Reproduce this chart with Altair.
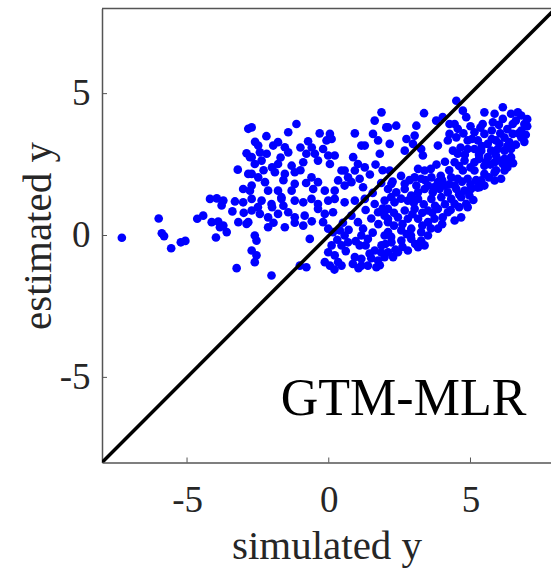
import altair as alt
import pandas as pd

# ---- data ----
sim_y = [
    -7.3, -6.0, -5.89, -5.81, -5.56, -5.22, -5.06, -4.64, -4.43, -4.19, -3.95, -3.72, -3.78, -3.31, -3.02,
    -4.13, -3.9, -3.72, -3.6, -3.84, -3.19, -2.9, -3.98, -3.25,
    -2.84, -2.78, -3.21, -2.84, -3.02, -2.78,
    -2.72, -1.14, -1.43, -0.32, 0.04, 0.1, -0.08, -0.73, 0.92, 1.62, 1.86, 1.56, 1.74, 2.03,
    -2.49, -2.43, -2.72, -2.61, -2.37, -2.19, -1.96, -1.79, -1.55, -1.43,
    -0.79, -0.49, -0.38, -0.02, 0.21, -0.9, 0.04, 0.86, 1.15, 1.27, 1.8,
    1.03, 1.27, 0.92, 0.56,
    -1.79, -1.31, -1.2, -1.55, -1.9,
    -2.72, -2.49, -2.25, -2.72, -2.14,
    -0.61, -0.38, -0.55, -0.14, 0.21,
    -1.2, -1.31,
    0.45, 0.68, 0.33, 0.56, 0.8, 1.09, 1.21,
    -1.79, -1.67,
    -2.72, -2.37, -2.02, -1.67, -1.2, -0.9, -0.61, -0.38, -0.02, 0.21, 0.56, 0.92, 1.27, 1.62, 1.97,
    -2.72, -2.43, -2.14, -1.79, -1.43, -1.2, -0.85, -0.9, -1.55, -2.14, -2.84,
    -0.38, -0.14, 0.15, -0.2, -0.02,
    -2.61, -2.55, -2.72, -2.55, -2.61,
    -0.67, -2.02, -1.02, -0.79,
    0.15, 0.39, 0.56, 0.68, 0.45, 0.1, -0.02, 0.21, -0.14, 0.04, 0.33, 0.45,
    0.8, 1.03, 1.21, 1.15, 1.38,
    1.09, 0.92, 1.15, 1.44, 1.62, 1.86, 1.97, 1.74, 1.97, 1.38, 1.68, 1.15,
    1.97, 2.09, 1.74,
    4.5, 3.36, 4.73, 4.85,
    5.49, 5.85, 6.14, 6.43, 6.67, 6.79, 6.9, 6.79, 6.49, 6.14, 5.79, 5.43,
    2.09, 2.38, 3.09, 3.79, 4.02, 4.26, 4.44, 4.55,
    2.74, 3.03, 2.97, 2.15,
    4.26, 4.5, 4.2,
    5.14, 5.49, 5.26, 4.9, 5.61, 5.9, 6.02, 6.37, 6.49, 6.79,
    3.85,
    4.9, 5.14, 5.38, 5.73, 5.96, 6.2, 6.43, 5.61, 5.9, 6.2, 6.43,
    2.68, 3.26, 3.32,
    4.38, 4.55, 4.44,
    4.79, 5.14, 5.49, 5.85, 6.14, 6.37, 4.73, 5.14, 5.49, 5.85, 6.2, 4.9, 5.38, 5.85, 6.08,
    3.15, 3.38, 3.03, 3.26, 3.62, 3.85, 3.5, 3.09, 2.68, 2.21, 2.15,
    4.32, 4.55, 4.44, 4.08,
    2.09, 2.38, 2.68, 2.91, 3.15, 3.38, 3.67, 3.91, 4.2, 4.5, 4.79, 5.02, 5.32,
    2.32, 2.79, 3.15, 3.62, 3.97, 4.32, 4.67, 4.96, 4.85, 4.44,
    2.09, 2.68, 3.03, 3.5, 3.85, 4.2, 4.02, 3.73, 4.67, 4.44, 3.85, 3.5, 3.15, 2.79, 2.44, 2.09,
    2.09, 2.56, 2.91, 3.26, 3.5, 3.26, 2.91, 2.56, 2.21, 2.09, 2.44, 2.79, 3.15, 3.38, 2.27,
    5.25, 5.49,
    # denser fill of the right-hand cloud
    2.25, 2.55, 2.85, 3.4, 3.7, 4.0, 4.25, 2.2, 2.55, 3.0, 3.35, 3.75, 4.1, 4.6, 2.3, 2.6, 2.95, 3.3,
    3.65, 4.0, 2.3, 2.75, 3.05, 2.6, 2.35, 2.0, 2.2, 3.6, 3.3, 2.9, 4.3, 4.9, 5.1, 4.6, 5.0, 5.2, 4.7,
    4.25, 3.95, 3.6, 3.8, 4.1, 4.6, 5.0, 5.3, 5.7, 6.0, 5.65, 5.9, 6.3, 6.5, 6.3, 6.6, 6.9, 6.7, 6.95,
    6.3, 6.05, 5.75, 5.35, 5.0, 4.75, 5.05, 5.4, 5.75, 6.2, 6.0, 6.6, 7.0, 7.0, 4.65, 4.8, 5.3, 5.55,
    # middle
    0.5, 0.7, 0.95, 1.3, 1.5, 1.85, 1.55, 1.75, 1.5, 1.3, 0.3, 0.6, 0.85, 1.05, 0.2, 1.8, 1.9, 1.55,
    1.85, 1.45, 1.65, 1.9,
    # left
    -2.0, -1.6, -2.3, -2.9, -2.6, -2.2, -1.7, -1.0, -0.6, -0.2, -1.0, -0.8, -2.0, -1.6, -2.5, -3.0,
    -3.4, -1.95, -1.2, -0.6,
]
est_y = [
    -0.08, 0.6, 0.08, -0.02, -0.45, -0.24, -0.19, 0.59, 0.7, 1.29, 1.31, 1.23, 1.06, 1.2, 1.17,
    0.47, 0.49, 0.35, 0.12, 0.29, 0.47, 0.41, -0.07, -1.15,
    3.76, 2.76, 2.32, 2.17, 1.64, 1.58,
    3.81, 3.93, 3.64, 3.6, 3.58, 3.4, 3.35, 3.32, 3.6, 4.05, 4.34, 3.58, 3.35, 3.81,
    3.17, 2.93, 2.76, 2.52, 2.64, 2.88, 3.17, 3.29, 3.11, 2.93,
    2.88, 2.88, 2.64, 2.82, 2.82, 2.58, 2.52, 2.76, 3.17, 3.17, 2.88,
    2.52, 2.4, 2.29, 2.29,
    2.52, 2.46, 2.23, 2.17, 2.23,
    2.17, 2.05, 1.88, 1.76, 1.58,
    2.05, 1.88, 1.64, 1.58, 1.58,
    1.82, 1.58,
    2.29, 2.05, 1.94, 1.76, 1.88, 2.0, 1.7,
    1.58, 1.35,
    1.29, 1.23, 1.11, 1.29, 1.23, 1.17, 1.29, 1.11, 1.23, 1.29, 1.17, 1.23, 1.29, 1.11, 1.23,
    0.88, 0.76, 0.64, 0.76, 0.82, 0.64, 0.7, 0.35, 0.29, 0.29, 0.47,
    0.94, 0.76, 0.82, 0.47, 0.24,
    0.0, -0.18, -0.53, -0.7, -0.94,
    -0.12, -1.41, -1.06, -1.12,
    0.12, 0.18, 0.0, -0.24, -0.35, -0.35, -0.59, -0.7, -0.94, -1.06, -0.94, -1.06,
    0.7, 0.47, 0.24, 0.0, -0.12,
    -0.35, -0.76, -0.82, -0.64, -0.53, -0.35, 0.0, -0.88, -0.76, -1.06, -1.12, -1.06,
    0.7, 0.47, 0.82,
    4.75, 4.31, 4.4, 4.17,
    4.34, 4.29, 4.52, 4.29, 4.34, 4.23, 3.93, 3.7, 3.93, 4.11, 3.99, 3.93,
    3.81, 3.87, 3.87, 4.05, 4.17, 3.93, 3.93, 3.76,
    3.4, 3.52, 3.23, 3.23,
    3.58, 3.46, 3.35,
    3.64, 3.58, 3.35, 3.35, 3.23, 3.35, 3.23, 3.29, 3.58, 3.46,
    3.17,
    3.05, 3.05, 2.99, 2.99, 3.05, 2.99, 3.05, 2.76, 2.82, 2.7, 2.76,
    2.99, 3.05, 2.82,
    2.99, 2.88, 2.58,
    2.64, 2.58, 2.46, 2.58, 2.52, 2.58, 2.29, 2.29, 2.17, 2.23, 2.29, 2.0, 1.94, 1.94, 2.0,
    2.35, 2.29, 2.05, 2.0, 2.05, 1.88, 1.76, 1.76, 1.82, 1.82, 2.29,
    2.05, 2.0, 1.76, 1.76,
    1.64, 1.52, 1.64, 1.41, 1.52, 1.64, 1.52, 1.64, 1.52, 1.64, 1.58, 1.64, 1.7,
    1.17, 1.23, 1.29, 1.29, 1.35, 1.29, 1.35, 1.41, 1.12, 1.12,
    0.94, 0.88, 0.94, 0.88, 0.94, 0.82, 0.64, 0.59, 0.64, 0.53, 0.24, 0.47, 0.59, 0.59, 0.64, 0.59,
    0.12, 0.18, 0.24, 0.12, 0.0, -0.18, -0.12, -0.18, -0.24, -0.59, -0.59, -0.53, -0.41, -0.35, -0.76,
    1.69, 1.76,
    # denser fill of the right-hand cloud
    1.9, 2.1, 1.95, 1.95, 1.7, 1.95, 1.8, 1.35, 1.3, 1.15, 1.1, 1.05, 1.1, 1.0, 0.8, 0.4, 0.75, 0.8,
    0.8, 0.4, 0.35, 0.05, -0.3, -0.4, -0.5, -0.3, -0.05, 0.25, 0.35, 0.0, 0.9, 1.0, 1.25, 1.45, 1.8, 1.95, 1.9,
    2.3, 2.1, 2.35, 2.5, 2.6, 2.45, 2.4, 2.7, 2.5, 2.65, 2.05, 2.3, 2.4, 2.55, 3.15, 3.2, 3.3, 3.6, 3.55,
    3.75, 3.6, 3.7, 3.8, 3.85, 3.6, 3.4, 3.15, 3.4, 3.45, 3.9, 4.05, 4.1, 3.85, 3.1, 2.85, 2.85, 2.6,
    # middle
    0.45, 0.2, -0.2, -0.35, -0.8, -0.6, 0.1, 0.4, 0.6, 0.9, -0.15, -0.55, -1.0, -1.15, -1.2, -1.05, 0.95, 1.5,
    1.85, 2.15, 2.5, 2.3,
    # left
    2.4, 1.95, 2.3, 2.9, 3.3, 3.5, 2.75, 3.1, 3.1, 3.05, 2.3, 1.85, 1.0, 1.05, 1.0, 0.8,
    0.85, 0.45, 0.45, 0.5,
]
diag_vals = [-8, 8]
tick_vals = [-5, 0, 5]
x_title = "simulated y"
y_title = "estimated y"
label_text = "GTM-MLR"

# ---- layout ----
W, H = 449, 454
FONT = "Liberation Serif"
AXIS_GRAY = "#555555"
TEXT_GRAY = "#262626"

pts = pd.DataFrame({"sim": sim_y, "est": est_y})
diag = pd.DataFrame({"sim": diag_vals, "est": diag_vals})
xt = pd.DataFrame({"sim": tick_vals})
yt = pd.DataFrame({"est": tick_vals})
one = pd.DataFrame({"a": [0]})

xscale = alt.Scale(domain=[-8, 7.84], nice=False, zero=False)
yscale = alt.Scale(domain=[-8, 8], nice=False, zero=False)

xaxis = alt.Axis(values=tick_vals, title=x_title, ticks=False, grid=False,
                 labelExpr="toString(datum.value)",
                 labelPadding=20, titlePadding=8)
yaxis = alt.Axis(values=tick_vals, title=y_title, ticks=False, grid=False,
                 labelExpr="toString(datum.value)",
                 labelPadding=12, titlePadding=0)

X = alt.X("sim:Q", scale=xscale, axis=xaxis)
Y = alt.Y("est:Q", scale=yscale, axis=yaxis)

scatter = alt.Chart(pts).mark_circle(size=75, color="#0000FF", opacity=1).encode(x=X, y=Y)

line = alt.Chart(diag).mark_line(color="black", strokeWidth=3.5, clip=True).encode(x=X, y=Y)

xticks = alt.Chart(xt).mark_rule(color=AXIS_GRAY, strokeWidth=1).encode(
    x=X, y=alt.value(H), y2=alt.value(H - 5),
)
yticks = alt.Chart(yt).mark_rule(color=AXIS_GRAY, strokeWidth=1).encode(
    y=Y, x=alt.value(0), x2=alt.value(5),
)
top_border = alt.Chart(one).mark_rule(color=AXIS_GRAY, strokeWidth=1.5).encode(
    x=alt.value(0), x2=alt.value(W), y=alt.value(0)
)

label = alt.Chart(one).mark_text(
    text=label_text, font=FONT, fontSize=52, align="right", baseline="alphabetic", color="black"
).encode(x=alt.datum(6.97), y=alt.datum(-6.31))

chart = alt.layer(scatter, line, xticks, yticks, top_border, label).properties(
    width=W, height=H,
    autosize=alt.AutoSizeParams(type="none"),
    padding={"left": 102, "top": 8.5, "right": 0, "bottom": 106},
    background="white",
).configure_view(stroke=None).configure_axis(
    domainColor=AXIS_GRAY, domainWidth=1.5,
    labelFont=FONT, labelFontSize=37, labelColor=TEXT_GRAY,
    titleFont=FONT, titleFontSize=41, titleFontWeight="normal", titleColor=TEXT_GRAY,
)

chart.save("out.html", embed_options={"renderer": "svg", "actions": False})
